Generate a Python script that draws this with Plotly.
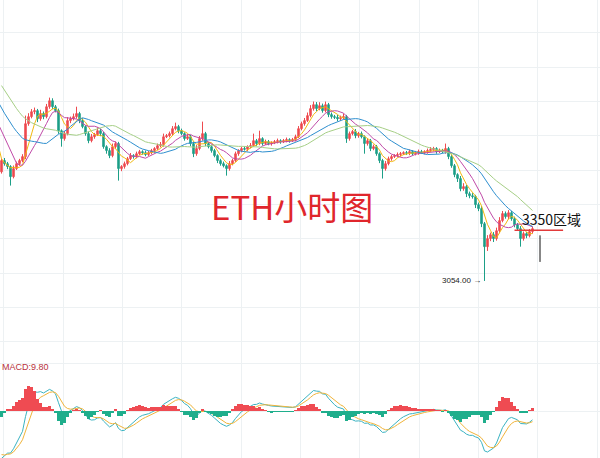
import numpy as np
import pandas as pd
import plotly.graph_objects as go

# ---------------- data (ETH hourly) ----------------
pre_close = [4560, 4540, 4520, 4490, 4470, 4450, 4430, 4410, 4380, 4360,
             4290, 4270, 4250, 4220, 4200, 4180, 4160, 4140, 4120, 4100,
             4095, 4090, 4085, 4075, 4070, 3860, 3790, 3740, 3690]

close = [3756, 3738, 3721, 3662, 3709, 3738, 3756, 3779, 3971, 4012,
         4041, 4047, 4000, 4030, 4012, 4070, 4105, 4070, 4047, 3930,
         3884, 3913, 3989, 4000, 4012, 4030, 3989, 3954, 3913, 3872,
         3895, 3907, 3930, 3913, 3837, 3814, 3785, 3837, 3855, 3709,
         3721, 3738, 3767, 3785, 3779, 3796, 3808, 3802, 3791, 3802,
         3814, 3826, 3843, 3849, 3895, 3901, 3913, 3942, 3954, 3930,
         3913, 3884, 3895, 3855, 3796, 3826, 3884, 3913, 3855, 3837,
         3814, 3785, 3756, 3738, 3726, 3709, 3738, 3756, 3796, 3814,
         3826, 3822, 3837, 3843, 3872, 3855, 3884, 3855, 3866, 3855,
         3860, 3866, 3872, 3866, 3872, 3878, 3872, 3878, 3895, 3942,
         3971, 3989, 4018, 4059, 4082, 4059, 4076, 4047, 4082, 4024,
         4012, 4008, 4000, 4006, 4012, 3884, 3913, 3925, 3901, 3913,
         3895, 3855, 3872, 3826, 3837, 3796, 3756, 3709, 3738, 3767,
         3779, 3785, 3791, 3796, 3802, 3799, 3808, 3796, 3802, 3808,
         3802, 3808, 3814, 3820, 3826, 3808, 3814, 3808, 3826, 3779,
         3726, 3674, 3651, 3592, 3604, 3563, 3551, 3546, 3499, 3476,
         3388, 3254, 3301, 3324, 3301, 3347, 3406, 3447, 3429, 3452,
         3417, 3382, 3359, 3301, 3330, 3318, 3342, 3359]

upper_wick = [12, 15, 10, 8, 18, 12, 10, 14, 47, 20,
              15, 18, 10, 22, 12, 16, 18, 14, 10, 12,
              8, 15, 20, 12, 18, 40, 10, 14, 8, 12,
              16, 10, 20, 12, 10, 8, 14, 18, 12, 10,
              8, 12, 10, 15, 8, 12, 10, 8, 12, 10,
              10, 8, 12, 15, 18, 10, 12, 15, 23, 10,
              12, 8, 15, 10, 12, 20, 15, 70, 10, 8,
              12, 10, 8, 10, 12, 8, 15, 10, 12, 8,
              10, 12, 8, 15, 41, 10, 46, 8, 12, 10,
              8, 10, 12, 8, 10, 12, 8, 10, 12, 15,
              12, 15, 18, 20, 18, 15, 20, 12, 18, 10,
              12, 10, 15, 12, 18, 10, 12, 10, 15, 10,
              12, 8, 15, 10, 12, 10, 8, 10, 15, 12,
              10, 8, 12, 10, 8, 10, 12, 8, 10, 12,
              10, 8, 12, 15, 10, 8, 12, 10, 29, 10,
              12, 10, 8, 15, 20, 10, 12, 15, 10, 12,
              15, 10, 20, 12, 15, 18, 20, 15, 12, 15,
              10, 12, 10, 15, 12, 10, 15, 12]

lower_wick = [10, 12, 15, 52, 10, 8, 12, 10, 15, 12,
              10, 15, 20, 12, 15, 10, 12, 15, 10, 18,
              47, 12, 10, 15, 10, 12, 15, 10, 12, 15,
              10, 12, 8, 15, 12, 18, 15, 10, 12, 70,
              15, 12, 10, 8, 12, 10, 8, 12, 10, 8,
              10, 12, 8, 10, 12, 8, 10, 12, 10, 15,
              10, 12, 8, 15, 20, 12, 10, 12, 15, 10,
              12, 10, 15, 12, 10, 41, 12, 10, 8, 12,
              10, 8, 12, 10, 8, 15, 10, 12, 8, 10,
              12, 8, 10, 12, 8, 10, 12, 8, 10, 8,
              10, 12, 8, 10, 12, 15, 10, 12, 10, 15,
              12, 10, 15, 12, 10, 25, 12, 10, 15, 12,
              10, 59, 12, 15, 10, 12, 15, 58, 12, 10,
              12, 8, 10, 12, 8, 10, 12, 8, 10, 12,
              8, 10, 12, 8, 10, 12, 8, 10, 12, 15,
              12, 15, 20, 15, 12, 20, 15, 12, 20, 15,
              20, 200, 25, 15, 20, 12, 15, 10, 12, 15,
              12, 15, 10, 47, 12, 15, 10, 12]

ma_periods = [5, 10, 20, 30]
ma_colors = ["#f2b90f", "#c04aa8", "#2e8fcf", "#a6cf86"]
# MACD spans (12/26/9 on the chart's denser native bars ~ half on these bars)
macd_fast, macd_slow, macd_signal = 6, 13, 4.5

level_price = 3350
level_label = "3350区域"
low_label = "3054.00 →"
macd_label = "MACD:9.80"
title_text = "ETH小时图"

# ---------------- derived series ----------------
all_close = pre_close + close
n_pre = len(pre_close)
idx_all = list(range(-n_pre, len(close)))
s = pd.Series(all_close, index=idx_all, dtype=float)

idx = list(range(len(close)))
opens = [all_close[n_pre + i - 1] for i in idx]
highs = [max(o, c) + w for o, c, w in zip(opens, close, upper_wick)]
lows = [min(o, c) - w for o, c, w in zip(opens, close, lower_wick)]

ema_f = s.ewm(span=macd_fast, adjust=False).mean()
ema_s = s.ewm(span=macd_slow, adjust=False).mean()
dif = ema_f - ema_s
dea = dif.ewm(span=macd_signal, adjust=False).mean()
hist = 2 * (dif - dea)

vis = [i for i in idx_all if i >= 0]
dif_v = dif.loc[vis]
dea_v = dea.loc[vis]
hist_v = hist.loc[vis]

W, H = 600, 458
MAIN_BOTTOM_PX = 350
PRICE_PER_PX = 5.83
top_price = 4692
bottom_price = top_price - MAIN_BOTTOM_PX * PRICE_PER_PX

fig = go.Figure()

fig.add_trace(go.Candlestick(
    x=idx, open=opens, high=highs, low=lows, close=close,
    increasing=dict(line=dict(color="#ee4a4f", width=1), fillcolor="#ee4a4f"),
    decreasing=dict(line=dict(color="#1d9f87", width=1), fillcolor="#1d9f87"),
    whiskerwidth=0, showlegend=False, hoverinfo="skip",
    xaxis="x", yaxis="y"))

for p, col in zip(ma_periods, ma_colors):
    ma = s.rolling(p).mean()
    fig.add_trace(go.Scatter(x=idx_all, y=ma.values, mode="lines",
                             line=dict(color=col, width=1),
                             showlegend=False, hoverinfo="skip",
                             xaxis="x", yaxis="y"))

# MACD pane
hist_colors = ["#ef4b52" if v >= 0 else "#1fae8c" for v in hist_v.values]
fig.add_trace(go.Bar(x=vis, y=hist_v.values, marker=dict(color=hist_colors, line=dict(width=0)),
                     width=1.0, showlegend=False, hoverinfo="skip",
                     xaxis="x2", yaxis="y3"))
fig.add_trace(go.Scatter(x=vis, y=dif_v.values, mode="lines",
                         line=dict(color="#3ab3c2", width=1),
                         showlegend=False, hoverinfo="skip", xaxis="x2", yaxis="y2"))
fig.add_trace(go.Scatter(x=vis, y=dea_v.values, mode="lines",
                         line=dict(color="#f0b43a", width=1),
                         showlegend=False, hoverinfo="skip", xaxis="x2", yaxis="y2"))

# MACD scaling: zero 47px above bottom of the 108px pane
tail = dif_v.iloc[20:]
unit = max(float(dif_v.max()) / 34.0, -float(tail.min()) / 41.0)
macd_range = [-47 * unit, 61 * unit]
hunit = float(hist_v.abs().iloc[10:].max()) / 24.0
hist_range = [-47 * hunit, 61 * hunit]

grid_col = "#edf1f3"
x_range = [-0.5, W / 3 - 0.5]
main_dom = [(H - MAIN_BOTTOM_PX) / H, 1]
macd_dom = [0, (H - MAIN_BOTTOM_PX) / H]

xcommon = dict(range=x_range, showticklabels=False, showgrid=True, gridcolor=grid_col,
               gridwidth=1, tick0=0.83, dtick=19.77, zeroline=False, showline=False,
               rangeslider=dict(visible=False), fixedrange=True)

fig.update_layout(
    width=W, height=H,
    margin=dict(l=0, r=0, t=0, b=0),
    paper_bgcolor="white", plot_bgcolor="white",
    xaxis=dict(domain=[0, 1], anchor="y", **xcommon),
    xaxis2=dict(domain=[0, 1], anchor="y2", matches="x", **xcommon),
    yaxis=dict(domain=main_dom, range=[bottom_price, top_price], showticklabels=False,
               showgrid=True, gridcolor=grid_col, tick0=2700, dtick=200,
               zeroline=False, showline=False),
    yaxis2=dict(domain=macd_dom, range=macd_range, showticklabels=False,
                showgrid=True, gridcolor=grid_col, tick0=0, dtick=48 * unit,
                zeroline=False, showline=False),
    yaxis3=dict(overlaying="y2", range=hist_range, showticklabels=False,
                showgrid=False, zeroline=False, showline=False),
    bargap=0,
    font=dict(family="Noto Sans CJK SC, Noto Sans, sans-serif"),
)

# annotations
fig.add_annotation(x=292 / W, y=1 - 206 / H, xref="paper", yref="paper",
                   text=title_text, showarrow=False,
                   font=dict(size=33, color="#e0262c", family="Noto Sans CJK SC"))

low_i = int(np.argmin(lows))
fig.add_annotation(x=low_i, y=lows[low_i], xref="x", yref="y", text=low_label,
                   showarrow=False, xanchor="right", yanchor="middle", xshift=-2,
                   font=dict(size=8, color="#222222", family="Liberation Sans"))

fig.add_shape(type="line", xref="x", yref="y", x0=171, x1=187.2,
              y0=level_price, y1=level_price, line=dict(color="#e23b3b", width=1.5))
fig.add_annotation(x=172.8, y=level_price, xref="x", yref="y", text=level_label,
                   showarrow=False, xanchor="left", yanchor="bottom", yshift=-1,
                   font=dict(size=14, color="#111111", family="Noto Sans CJK SC"))
fig.add_shape(type="line", xref="x", yref="y", x0=179.5, x1=179.5,
              y0=3320, y1=3165, line=dict(color="#111111", width=1))

fig.add_annotation(x=0, y=(H - 367) / H, xref="paper", yref="paper", text=macd_label,
                   showarrow=False, xanchor="left", yanchor="middle",
                   font=dict(size=9, color="#b8323c", family="Liberation Sans"))

fig.write_html("out.html", config={"displayModeBar": False},
               post_script="document.body.style.margin='0';document.body.style.overflow='hidden';")
